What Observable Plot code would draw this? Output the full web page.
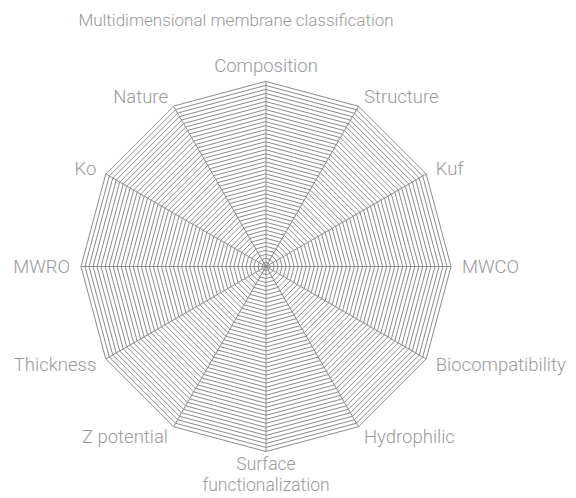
<!DOCTYPE html>
<html>
<head>
<meta charset="utf-8">
<script src="https://cdn.jsdelivr.net/npm/d3@7"></script>
<script src="https://cdn.jsdelivr.net/npm/@observablehq/plot@0.6"></script>
<style>
  html, body { margin: 0; padding: 0; background: #fff; }
</style>
</head>
<body>
<div id="chart"></div>
<script>
const title = "Multidimensional membrane classification";
const axes = ["Composition", "Structure", "Kuf", "MWCO", "Biocompatibility", "Hydrophilic",
  "Surface\nfunctionalization", "Z potential", "Thickness", "MWRO", "Ko", "Nature"];
const ringCount = 46;
const ringLevels = d3.range(1, ringCount + 1).map(k => k / ringCount);

const W = 576, H = 498, cx = 265.5, cy = 266, R = 185;
const n = axes.length;
const ang = i => (i / n) * 2 * Math.PI; // clockwise from top
const px = (i, r) => r * Math.sin(ang(i));
const py = (i, r) => r * Math.cos(ang(i));

const ringPts = [];
ringLevels.forEach((r, k) => {
  for (let i = 0; i < n; i++) ringPts.push({ring: k, x: px(i, r), y: py(i, r)});
});
const spokes = axes.map((a, i) => ({x1: 0, y1: 0, x2: px(i, 1), y2: py(i, 1)}));
const labels = axes.map((a, i) => {
  const s = Math.sin(ang(i)), c = Math.cos(ang(i));
  const middle = Math.abs(s) < 0.01;
  const lr = (middle ? (c > 0 ? 201 : 207.5) : 196) / R;
  return {
    text: a, x: px(i, lr), y: py(i, lr), top: c > 0,
    anchor: middle ? "middle" : (s > 0 ? "start" : "end")
  };
});

const gray = "#8c8c8c";
const font = "Roboto, 'Open Sans', sans-serif";
const lab = {x: "x", y: "y", text: "text", fill: "#999", fontSize: 18.5, fontWeight: 300, lineHeight: 1.1};

const chart = Plot.plot({
  width: W, height: H,
  margin: 0,
  x: {domain: [-cx / R, (W - cx) / R], range: [0, W], axis: null},
  y: {domain: [-(H - cy) / R, cy / R], range: [H, 0], axis: null},
  style: {fontFamily: font, background: "#fff"},
  marks: [
    Plot.line(ringPts, {x: "x", y: "y", z: "ring", curve: "linear-closed", stroke: gray, strokeWidth: 1}),
    Plot.link(spokes, {x1: "x1", y1: "y1", x2: "x2", y2: "y2", stroke: gray, strokeWidth: 1}),
    Plot.text(labels.filter(d => d.anchor === "start"), {...lab, textAnchor: "start"}),
    Plot.text(labels.filter(d => d.anchor === "end"), {...lab, textAnchor: "end"}),
    Plot.text(labels.filter(d => d.anchor === "middle" && d.top), {...lab, textAnchor: "middle"}),
    Plot.text(labels.filter(d => d.anchor === "middle" && !d.top), {...lab, textAnchor: "middle", fontSize: 17.5, lineHeight: 1.16}),
    Plot.text([title], {x: (78 - cx) / R, y: (cy - 20) / R, text: d => d, textAnchor: "start", fill: "#999", fontSize: 17, fontWeight: 300})
  ]
});
document.getElementById("chart").appendChild(chart);
</script>
</body>
</html>
